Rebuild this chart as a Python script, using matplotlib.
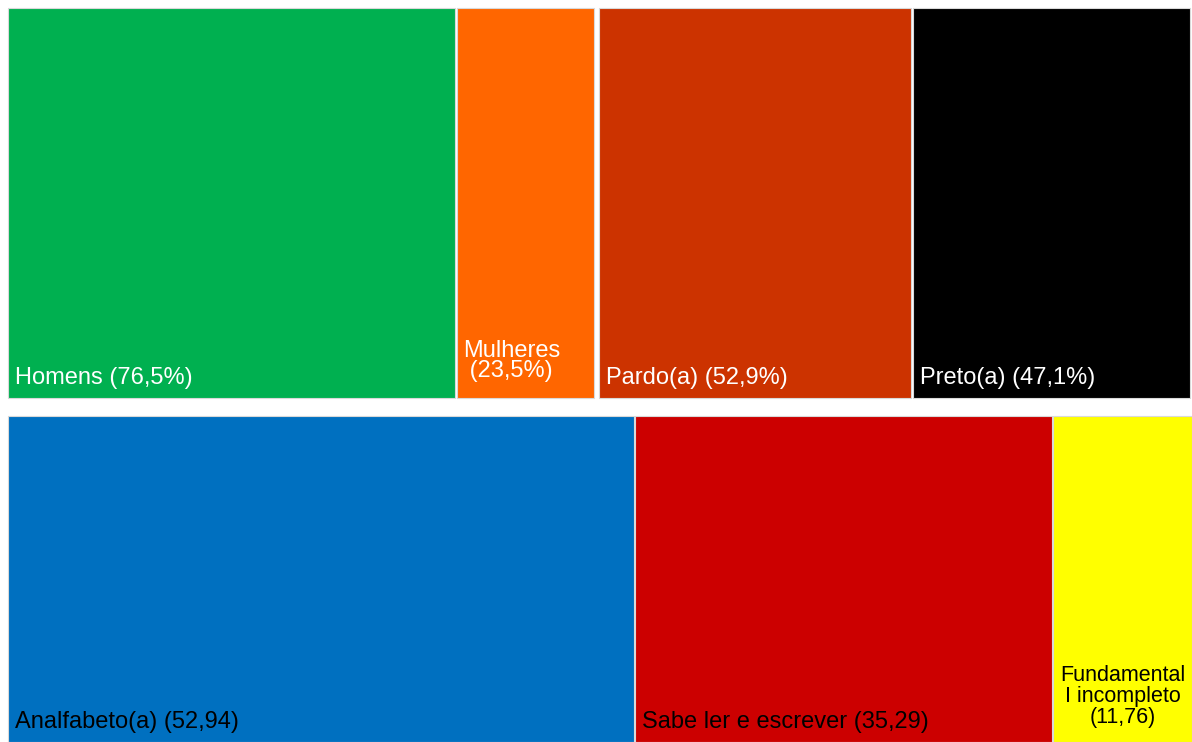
import matplotlib
matplotlib.use("Agg")
import matplotlib.pyplot as plt
from matplotlib.patches import Rectangle

plt.rcParams['font.family'] = ['Liberation Sans', 'DejaVu Sans']

# Data
sexo_labels = ["Homens (76,5%)", "Mulheres\n (23,5%)"]
sexo_values = [76.5, 23.5]
sexo_colors = ["#00B050", "#FF6600"]

cor_labels = ["Pardo(a) (52,9%)", "Preto(a) (47,1%)"]
cor_values = [52.9, 47.1]
cor_colors = ["#CC3300", "#000000"]

esc_labels = ["Analfabeto(a) (52,94)", "Sabe ler e escrever (35,29)", "Fundamental\nI incompleto\n(11,76)"]
esc_values = [52.94, 35.29, 11.76]
esc_colors = ["#0070C0", "#CC0000", "#FFFF00"]

W, H = 1192, 742
FS = 17
fig = plt.figure(figsize=(W / 100, H / 100), dpi=100)
ax = fig.add_axes([0, 0, 1, 1])
ax.set_xlim(0, W)
ax.set_ylim(H, 0)
ax.axis('off')


def draw_group(x0, x1, y0, y1, values, colors, labels, txtcolors, aligns, gap=2):
    total = sum(values)
    avail = (x1 - x0) - gap * (len(values) - 1)
    x = x0
    for v, c, lab, tc, al in zip(values, colors, labels, txtcolors, aligns):
        w = avail * v / total
        ax.add_patch(Rectangle((x, y0), w, y1 - y0, facecolor=c,
                               edgecolor='#d9d9d9', linewidth=0.8))
        if al == 'left':
            ax.text(x + 7, y1 - 9, lab, color=tc, fontsize=FS,
                    ha='left', va='bottom', linespacing=0.93)
        elif al == 'leftml':
            ax.text(x + 6, y1 - 16, lab, color=tc, fontsize=FS,
                    ha='left', va='bottom', linespacing=0.9)
        else:
            ax.text(x + w / 2, y1 - 14, lab, color=tc, fontsize=15.5,
                    ha='center', va='bottom', linespacing=1.0,
                    multialignment='center')
        x += w + gap


draw_group(8, 594, 8, 398, sexo_values, sexo_colors, sexo_labels,
           ['white', 'white'], ['left', 'leftml'])
draw_group(599, 1190, 8, 398, cor_values, cor_colors, cor_labels,
           ['white', 'white'], ['left', 'left'])
draw_group(8, 1192, 416, 742, esc_values, esc_colors, esc_labels,
           ['black', 'black', 'black'], ['left', 'left', 'center'], gap=1)

fig.savefig("out.png", dpi=100)
